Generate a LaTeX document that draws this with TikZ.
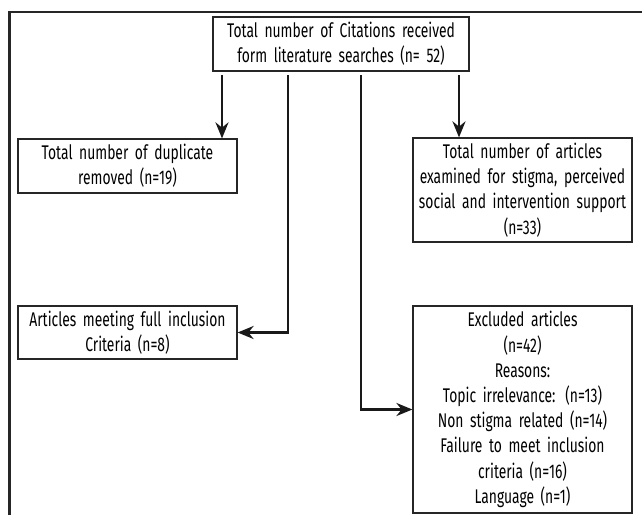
\documentclass[tikz,border=0pt]{standalone}
\usepackage{fontspec}
\setmainfont[FakeStretch=0.7]{Fira Sans}
\usetikzlibrary{arrows.meta}

\begin{document}
\begin{tikzpicture}[x=0.5pt,y=-0.5pt]
	\tikzset{BoxStyle/.style = {draw=black!85,line width=0.6pt,inner sep=0pt,align=center,
			minimum width=109.5pt,text width=107pt,font=\fontsize{9.9}{12.6}\selectfont}}
	\tikzset{FlowStyle/.style = {draw=black!90,line width=1.25pt,-{Stealth[length=8pt,width=6.5pt]}}}
	\useasboundingbox (0,0) rectangle (642,514);
	\clip (0,0) rectangle (642,514);
	% frame
	\draw[line width=1.3pt,black!85] (660,12) -- (9.5,12) -- (9.5,530);
	% boxes
	\node[BoxStyle,minimum width=128pt,text width=126pt,minimum height=27pt] (total) at (341,44)
		{Total number of Citations received\\form literature searches (n= 52)};
	\node[BoxStyle,minimum height=27pt] (dup) at (127.5,166)
		{Total number of duplicate\\removed (n=19)};
	\node[BoxStyle,minimum height=52pt] (exam) at (522.5,190)
		{Total number of articles\\examined for stigma, perceived\\social and intervention support\\(n=33)};
	\node[BoxStyle,minimum height=26.5pt] (incl) at (127.5,332.5)
		{Articles meeting full inclusion\\Criteria (n=8)};
	\node[BoxStyle,minimum height=103.5pt] (excl) at (522.5,409.5)
		{Excluded articles\\(n=42)\\Reasons:\\Topic irrelevance: (n=13)\\Non stigma related (n=14)\\Failure to meet inclusion\\criteria (n=16)\\Language (n=1)};
	% starts of the flows
	\coordinate (s1) at (222,75);
	\coordinate (s2) at (288,75);
	\coordinate (s3) at (361,75);
	\coordinate (s4) at (459,75);
	% flows
	\draw[FlowStyle] (s1) -- (s1 |- dup.north);
	\draw[FlowStyle] (s4) -- (s4 |- exam.north);
	\draw[FlowStyle] (s2) |- (incl.east);
	\draw[FlowStyle] (s3) |- (excl.west);
\end{tikzpicture}
\end{document}
